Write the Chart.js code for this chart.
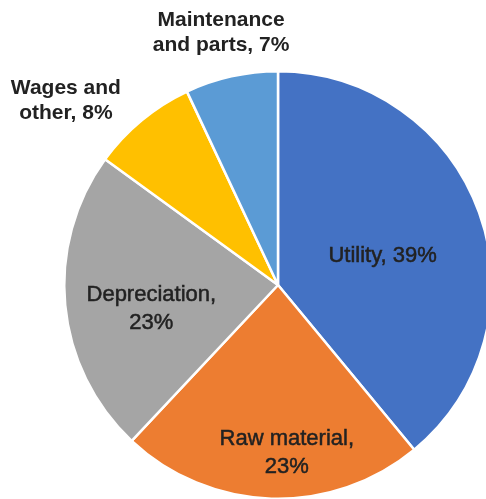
<!DOCTYPE html>
<html>
<head>
<meta charset="utf-8">
<script src="https://cdn.jsdelivr.net/npm/chart.js@4"></script>
<style>
    html, body { margin: 0; padding: 0; background: #fff; overflow: hidden; }
    #wrap { position: relative; width: 500px; height: 520px; }
</style>
</head>
<body>
<div id="wrap"><canvas id="chartBiaya"></canvas></div>
<script>
// ── Data ─────────────────────────────────
const categories = ['Utility', 'Raw material', 'Depreciation', 'Wages and other', 'Maintenance and parts'];
const shares     = [39, 23, 23, 8, 7];
const colors     = ['#4472C4', '#ED7D31', '#A5A5A5', '#FFC000', '#5B9BD5'];

// label placement: radius factor, nudge, line break after n words, outside = bold
const labelLayout = [
    { k: 0.53, dx: -2,  dy: 9,  breakAt: 0, outside: false },
    { k: 0.78, dx: 14,  dy: 1,  breakAt: 2, outside: false },
    { k: 0.60, dx: 1,   dy: 12, breakAt: 1, outside: false },
    { k: 1.30, dx: -35, dy: 30, breakAt: 2, outside: true  },
    { k: 1.22, dx: 0,   dy: 2,  breakAt: 1, outside: true  }
];

function labelLines(i) {
    const words = (categories[i] + ', ' + shares[i] + '%').split(' ');
    const n = labelLayout[i].breakAt;
    if (!n) return [words.join(' ')];
    return [words.slice(0, n).join(' '), words.slice(n).join(' ')];
}

// ── Slice labels plugin ──────────────────
const sliceLabels = {
    id: 'sliceLabels',
    afterDraw(chart) {
        const ctx  = chart.ctx;
        const arcs = chart.getDatasetMeta(0).data;
        ctx.save();
        ctx.textAlign    = 'center';
        ctx.textBaseline = 'middle';
        ctx.fillStyle    = '#222';
        ctx.strokeStyle  = '#222';
        ctx.lineWidth    = 0.5;
        arcs.forEach(function(arc, i) {
            const lay = labelLayout[i];
            const p   = arc.getProps(['x', 'y', 'startAngle', 'endAngle', 'outerRadius'], true);
            const mid = (p.startAngle + p.endAngle) / 2;
            const cx  = p.x + Math.cos(mid) * p.outerRadius * lay.k + lay.dx;
            const cy  = p.y + Math.sin(mid) * p.outerRadius * lay.k + lay.dy;
            const lines = labelLines(i);
            const lh    = lay.outside ? 25 : 28;
            ctx.font = lay.outside
                ? "bold 21px 'Liberation Sans', Arial, sans-serif"
                : "22px 'Liberation Sans', Arial, sans-serif";
            lines.forEach(function(t, j) {
                const y = cy + (j - (lines.length - 1) / 2) * lh;
                ctx.fillText(t, cx, y);
                if (!lay.outside) ctx.strokeText(t, cx, y);
            });
        });
        ctx.restore();
    }
};

new Chart(document.getElementById('chartBiaya'), {
    type: 'pie',
    data: {
        labels: categories,
        datasets: [{
            data: shares,
            backgroundColor: colors,
            borderColor: '#fff',
            borderWidth: 2.5
        }]
    },
    options: {
        responsive: true,
        maintainAspectRatio: false,
        animation: false,
        layout: { padding: { left: 63, right: 7, top: 70, bottom: 20 } },
        plugins: {
            legend: { display: false },
            tooltip: { enabled: false }
        }
    },
    plugins: [sliceLabels]
});
</script>
</body>
</html>
